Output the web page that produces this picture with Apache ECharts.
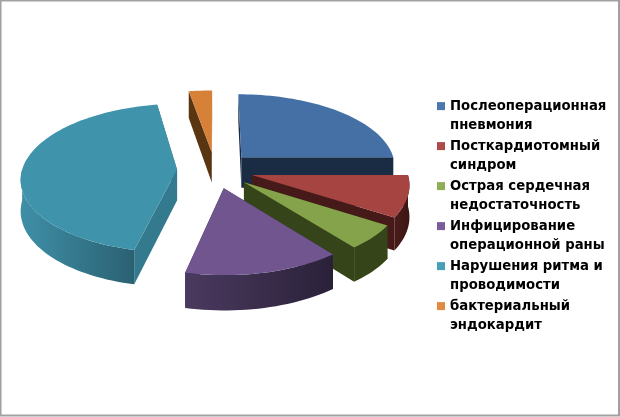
<!DOCTYPE html>
<html>
<head>
<meta charset="utf-8">
<style>html,body{margin:0;padding:0;background:#fff}#c{width:620px;height:417px}</style>
<script src="https://cdn.jsdelivr.net/npm/echarts@6/dist/echarts.min.js"></script>
</head>
<body>
<div id="c"></div>
<script>
var categories = [
  'Послеоперационная\nпневмония',
  'Посткардиотомный\nсиндром',
  'Острая сердечная\nнедостаточность',
  'Инфицирование\nоперационной раны',
  'Нарушения ритма и\nпроводимости',
  'бактериальный\nэндокардит'
];
var values = [25, 8.9, 5.3, 14.4, 43.6, 2.8];
var topColors = ['#4470a6', '#a64442', '#85a34a', '#70558f', '#3f94ac', '#d68038'];
var wallColors = ['#1a2c44', '#451a18', '#36441a', '#3a2c50', '#337a8f', '#5a3512'];
var rimLeft = ['#1a2c44', '#4a1c19', '#36441a', '#4a3a5f', '#3f8fa7', '#5a3512'];
var rimRight = ['#1a2c44', '#3d1614', '#36441a', '#2a2139', '#2a6172', '#5a3512'];
var legendColors = ['#4a78ae', '#ae4a48', '#8fae55', '#7a5c9b', '#45a0b8', '#e08a42'];
var paintOrder = [5, 0, 4, 1, 2, 3];

var CX = 215, CY = 170, R = 155, TILT = 0.48, PERSP = 0.00073, DEPTH = 31, EXPLODE = 38;
var total = values.reduce(function (a, b) { return a + b; }, 0);
var rad = Math.PI / 180;

function project(mid, theta, r, low) {
  var x = EXPLODE * Math.sin(mid) + r * Math.sin(theta);
  var z = -(EXPLODE * Math.cos(mid) + r * Math.cos(theta));
  var s = 1 + PERSP * z;
  return [CX + x * s, CY + z * TILT * s + (low ? DEPTH * s : 0)];
}
function arc(mid, a, b, low) {
  var out = [], n = Math.max(2, Math.ceil((b - a) / (2 * rad)));
  for (var i = 0; i <= n; i++) out.push(project(mid, a + (b - a) * i / n, R, low));
  return out;
}
function poly(points, fill, z2) {
  return { type: 'polygon', silent: true, z2: z2, shape: { points: points },
           style: { fill: fill, stroke: null } };
}
function makeRender(idx) {
  return function (params, api) {
    var before = 0;
    for (var i = 0; i < idx; i++) before += values[i];
    var a = before / total * 2 * Math.PI;
    var b = (before + api.value(0)) / total * 2 * Math.PI;
    var mid = (a + b) / 2;
    var apexT = project(mid, 0, 0, false), apexB = project(mid, 0, 0, true);
    var children = [];
    var walls = [a, b].map(function (t) {
      return { z: -Math.cos(t), pts: [apexT, project(mid, t, R, false), project(mid, t, R, true), apexB] };
    }).sort(function (p, q) { return p.z - q.z; });
    walls.forEach(function (w, k) { children.push(poly(w.pts, wallColors[idx], 1 + k)); });
    var ra = Math.max(a, 90 * rad), rb = Math.min(b, 270 * rad);
    if (rb > ra) {
      var up = arc(mid, ra, rb, false), dn = arc(mid, ra, rb, true).reverse();
      children.push(poly(up.concat(dn), new echarts.graphic.LinearGradient(0, 0, 1, 0, [
        { offset: 0, color: rimLeft[idx] }, { offset: 1, color: rimRight[idx] }
      ]), 3));
    }
    var top = [apexT].concat(arc(mid, a, b, false));
    children.push(poly(top, topColors[idx], 4));
    return { type: 'group', children: children };
  };
}

var series = categories.map(function (name, i) {
  return {
    type: 'custom', name: name, coordinateSystem: 'none', silent: true,
    z: 2 + paintOrder.indexOf(i), clip: false,
    itemStyle: { color: legendColors[i] },
    renderItem: makeRender(i),
    data: [[values[i]]]
  };
});

var chart = echarts.init(document.getElementById('c'), null, { renderer: 'canvas' });
chart.setOption({
  animation: false,
  backgroundColor: '#ffffff',
  tooltip: { show: false },
  legend: {
    orient: 'vertical', left: 437, top: 77, padding: 0,
    itemWidth: 8, itemHeight: 8, itemGap: -18.2, icon: 'rect',
    selectedMode: false,
    data: categories,
    formatter: function (n) { return ' \n' + n; },
    textStyle: { fontFamily: 'DejaVu Sans', fontWeight: 'bold', fontSize: 13.25, color: '#000',
                 lineHeight: 19.4 }
  },
  graphic: [{
    type: 'rect', silent: true, z: 100,
    shape: { x: 0.5, y: 0.5, width: 618.5, height: 415 },
    style: { fill: 'none', stroke: '#a0a0a0', lineWidth: 2 }
  }],
  series: series
});
</script>
</body>
</html>
